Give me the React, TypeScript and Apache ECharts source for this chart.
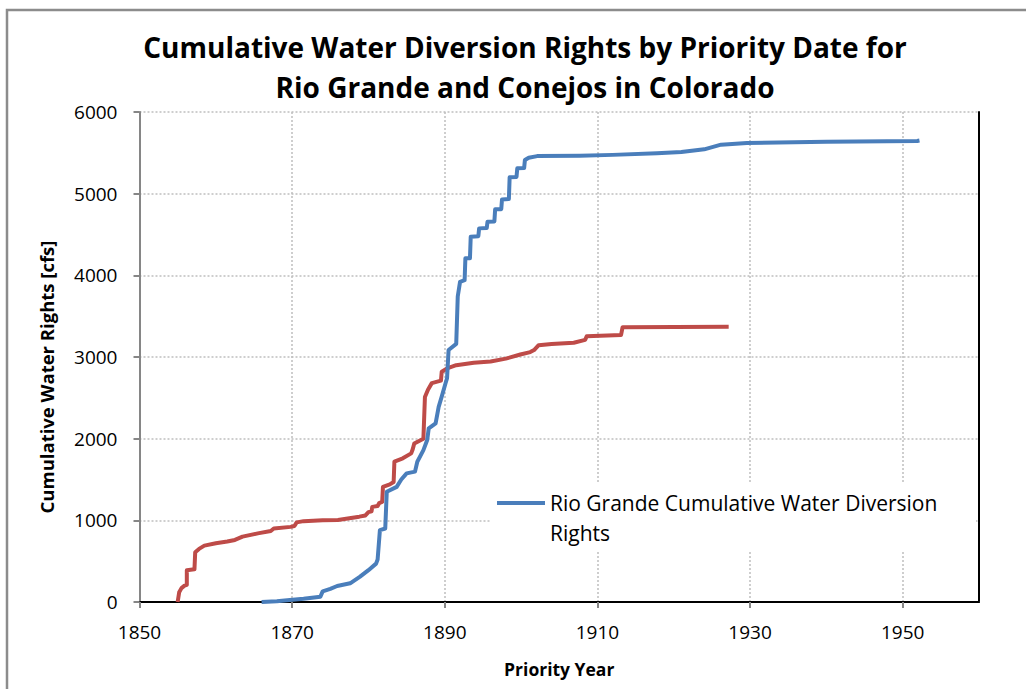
import React, { useEffect, useRef } from "react";
import * as echarts from "echarts";

// Rio Grande cumulative rights (cfs) vs priority year
const rioGrandeYears = [
  1866.0, 1868.0, 1869.7, 1871.5, 1873.7, 1874.0, 1875.0, 1875.9, 1877.6, 1878.9,
  1880.0, 1881.0, 1881.2, 1881.5, 1882.2, 1882.4, 1883.7, 1884.3, 1885.0, 1886.1,
  1886.4, 1887.2, 1887.7, 1887.9, 1888.8, 1889.2, 1889.6, 1890.1, 1890.3, 1890.5,
  1891.5, 1891.7, 1892.0, 1892.6, 1892.7, 1893.3, 1893.4, 1894.4, 1894.5, 1895.5,
  1895.6, 1896.5, 1896.6, 1897.4, 1897.5, 1898.4, 1898.5, 1899.4, 1899.5, 1900.4,
  1900.5, 1901.0, 1902.1, 1907.7, 1912.0, 1917.8, 1921.0, 1924.0, 1926.2, 1929.6,
  1940.0, 1951.9, 1952.2,
];
const rioGrandeValues = [
  0, 10, 24, 40, 65, 130, 160, 196, 229, 310,
  390, 470, 520, 880, 900, 1350, 1410, 1500, 1575, 1596,
  1718, 1860, 1984, 2127, 2188, 2390, 2514, 2678, 2740, 3086,
  3160, 3740, 3920, 3940, 4208, 4210, 4473, 4480, 4575, 4580,
  4657, 4660, 4808, 4810, 4930, 4935, 5200, 5205, 5310, 5315,
  5412, 5440, 5460, 5465, 5475, 5494, 5510, 5543, 5600, 5620,
  5635, 5645, 5650,
];

// Conejos cumulative rights (cfs) vs priority year
const conejosYears = [
  1855.0, 1855.2, 1855.5, 1855.9, 1856.2, 1856.2, 1857.2, 1857.3, 1857.8, 1858.5,
  1860.0, 1861.5, 1862.5, 1863.5, 1865.5, 1867.2, 1867.6, 1869.8, 1870.3, 1870.6,
  1871.5, 1874.0, 1876.0, 1877.5, 1878.8, 1879.6, 1880.0, 1880.4, 1880.5, 1881.2,
  1881.4, 1881.8, 1881.9, 1882.8, 1883.3, 1883.4, 1884.5, 1885.6, 1885.8, 1886.0,
  1887.2, 1887.4, 1887.8, 1888.3, 1889.5, 1889.6, 1890.3, 1891.5, 1893.8, 1896.0,
  1898.0, 1899.9, 1901.2, 1901.7, 1902.3, 1904.0, 1906.9, 1908.4, 1908.6, 1913.1,
  1913.3, 1927.2,
];
const conejosValues = [
  0, 120, 170, 200, 210, 390, 400, 610, 650, 690,
  720, 740, 760, 800, 840, 870, 900, 920, 930, 975,
  990, 1000, 1005, 1025, 1045, 1060, 1100, 1110, 1165, 1175,
  1210, 1225, 1410, 1440, 1470, 1720, 1760, 1820, 1870, 1940,
  2000, 2510, 2600, 2680, 2710, 2820, 2860, 2900, 2930, 2945,
  2980, 3030, 3060, 3085, 3145, 3160, 3175, 3210, 3255, 3270,
  3365, 3370,
];

const titleText = "Cumulative Water Diversion Rights by Priority Date for\nRio Grande and Conejos in Colorado";
const xName = "Priority Year";
const yName = "Cumulative Water Rights [cfs]";
const rioGrandeName = "Rio Grande Cumulative Water Diversion Rights";
const conejosName = "Conejos Cumulative Water Diversion Rights";

const FONT = "'Open Sans', 'Noto Sans', sans-serif";

export default function App() {
  const ref = useRef<HTMLDivElement>(null);

  useEffect(() => {
    if (!ref.current) return;
    const chart = echarts.init(ref.current, null, { renderer: "svg" });
    const zip = (xs: number[], ys: number[]) => xs.map((x, i) => [x, ys[i]]);

    chart.setOption({
      animation: false,
      backgroundColor: "#ffffff",
      title: {
        text: titleText,
        left: 525,
        top: 27,
        padding: 0,
        textAlign: "center",
        textStyle: {
          fontFamily: FONT,
          fontWeight: "bold",
          fontSize: 28,
          lineHeight: 40,
          color: "#000",
        },
      },
      graphic: [
        {
          type: "rect",
          z: 0,
          silent: true,
          shape: { x: 7, y: 10, width: 1200, height: 900 },
          style: { fill: "none", stroke: "#8c8c8c", lineWidth: 2.5 },
        },
        {
          type: "rect",
          z: 5,
          silent: true,
          shape: { x: 490, y: 484, width: 486, height: 67 },
          style: { fill: "#ffffff" },
        },
      ],
      legend: {
        data: [rioGrandeName],
        left: 497,
        top: 458,
        padding: 0,
        z: 10,
        icon: "rect",
        itemWidth: 48,
        itemHeight: 4,
        itemStyle: { color: "#4A7EBB" },
        // leading blank line keeps the icon level with the first text line
        formatter: () => " \nRio Grande Cumulative Water Diversion\nRights",
        textStyle: {
          fontFamily: FONT,
          fontSize: 21,
          lineHeight: 30,
          color: "#000",
        },
      },
      grid: { left: 139.5, right: 47, top: 112, bottom: 87, containLabel: false },
      xAxis: [
        {
          type: "value",
          min: 1850,
          max: 1960,
          interval: 20,
          name: xName,
          nameLocation: "middle",
          nameGap: 58,
          nameTextStyle: { fontFamily: FONT, fontWeight: "bold", fontSize: 17.5, color: "#000" },
          axisLine: { show: true, onZero: false, lineStyle: { color: "#868686", width: 2 } },
          axisTick: { show: true, inside: false, length: 6, lineStyle: { color: "#868686", width: 2 } },
          axisLabel: {
            showMaxLabel: false,
            margin: 20,
            fontFamily: FONT,
            fontSize: 19,
            color: "#000",
            formatter: (v: number) => String(v),
          },
          splitLine: { show: true, lineStyle: { color: "#BFBFBF", width: 1.5, type: [2, 2] } },
        },
        {
          type: "value",
          position: "top",
          min: 1850,
          max: 1960,
          axisLine: { show: true, lineStyle: { color: "#000", width: 2 } },
          axisTick: { show: false },
          axisLabel: { show: false },
          splitLine: { show: false },
        },
      ],
      yAxis: [
        {
          type: "value",
          min: 0,
          max: 6000,
          interval: 1000,
          name: yName,
          nameLocation: "middle",
          nameGap: 84,
          nameTextStyle: {
            fontFamily: FONT,
            fontWeight: "bold",
            fontSize: 18.5,
            color: "#000",
            padding: [0, 40, 0, 0],
          },
          axisLine: { show: true, onZero: false, lineStyle: { color: "#868686", width: 2 } },
          axisTick: { show: true, inside: false, length: 6, lineStyle: { color: "#868686", width: 2 } },
          axisLabel: {
            margin: 22,
            fontFamily: FONT,
            fontSize: 19,
            color: "#000",
            formatter: (v: number) => String(v),
          },
          splitLine: { show: true, lineStyle: { color: "#BFBFBF", width: 1.5, type: [2, 2] } },
        },
        {
          type: "value",
          position: "right",
          min: 0,
          max: 6000,
          axisLine: { show: true, lineStyle: { color: "#000", width: 2 } },
          axisTick: { show: false },
          axisLabel: { show: false },
          splitLine: { show: false },
        },
      ],
      series: [
        {
          name: conejosName,
          type: "line",
          xAxisIndex: 0,
          yAxisIndex: 0,
          data: zip(conejosYears, conejosValues),
          showSymbol: false,
          symbol: "none",
          lineStyle: { color: "#BE4B48", width: 4, join: "round" },
          itemStyle: { color: "#BE4B48" },
          z: 3,
        },
        {
          name: rioGrandeName,
          type: "line",
          xAxisIndex: 0,
          yAxisIndex: 0,
          data: zip(rioGrandeYears, rioGrandeValues),
          showSymbol: false,
          symbol: "none",
          lineStyle: { color: "#4A7EBB", width: 4, join: "round" },
          itemStyle: { color: "#4A7EBB" },
          z: 4,
        },
      ],
    });

    return () => chart.dispose();
  }, []);

  return (
    <div
      ref={ref}
      style={{ position: "absolute", left: 0, top: 0, width: 1026, height: 689 }}
    />
  );
}
